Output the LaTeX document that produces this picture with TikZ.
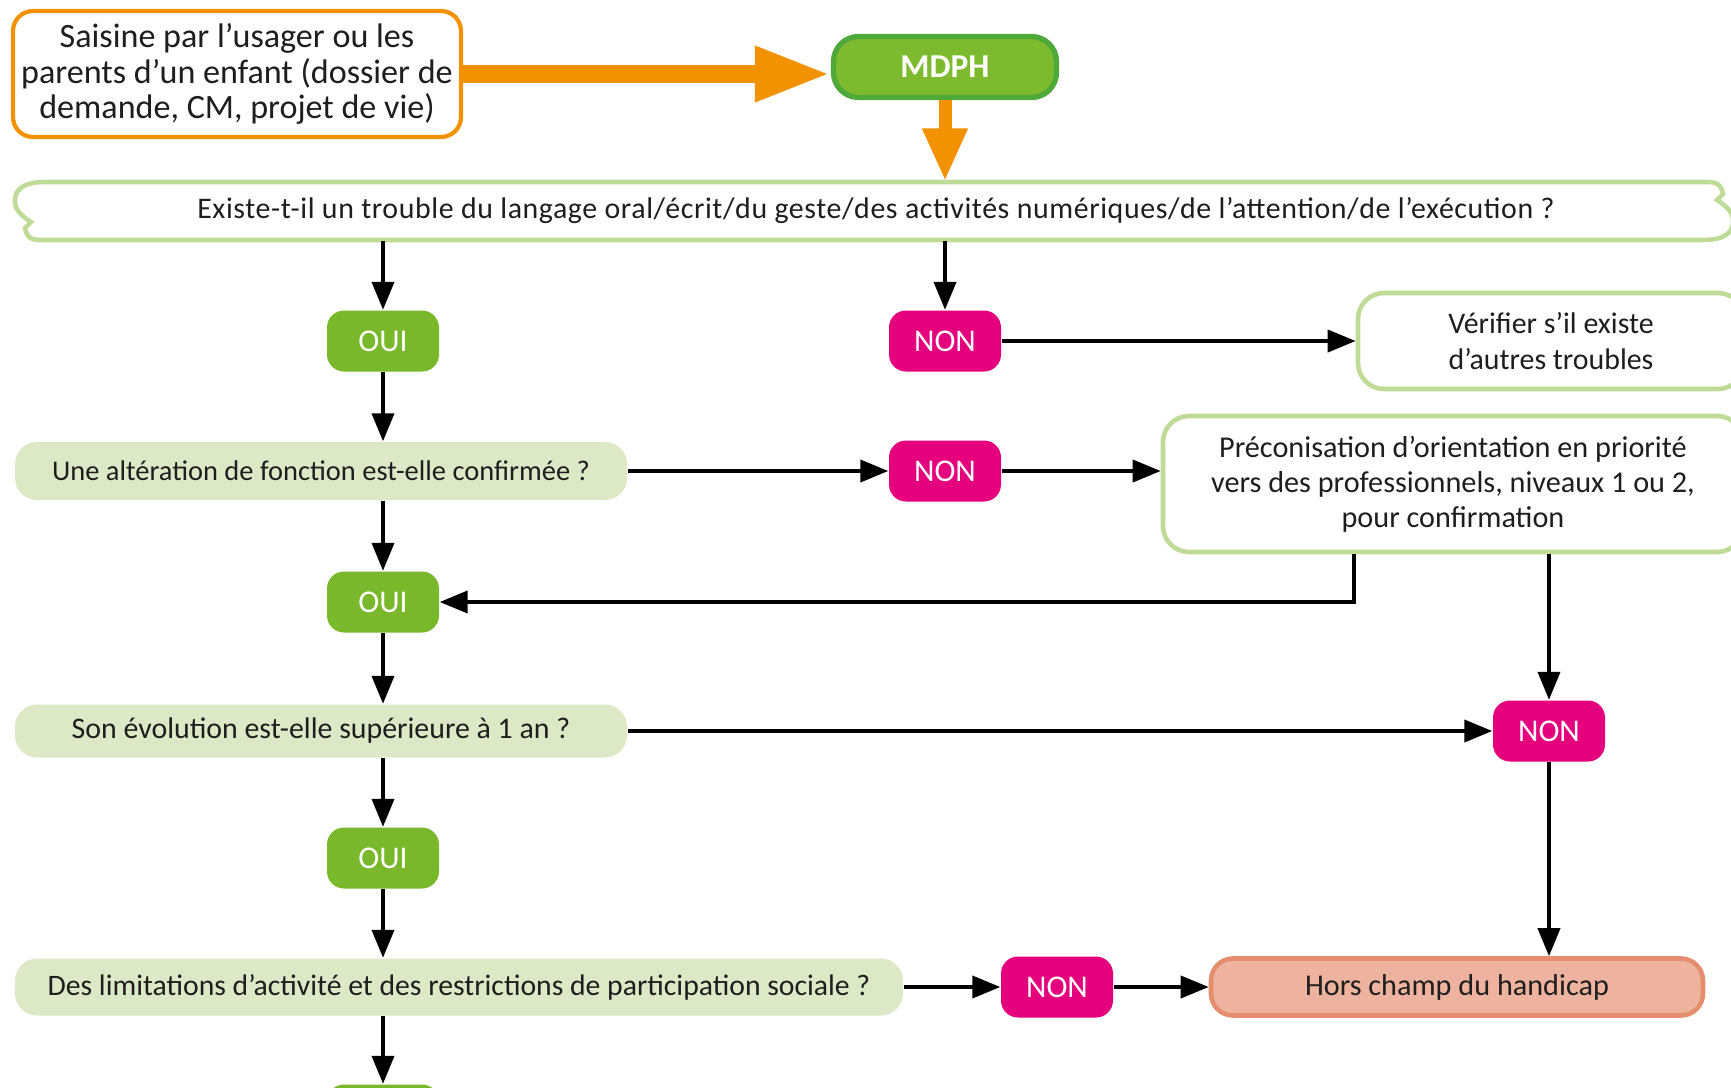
\documentclass[tikz,border=0pt]{standalone}
\usepackage{fontspec}
\setmainfont{Carlito}
\usetikzlibrary{arrows.meta}

\definecolor{orangeA}{HTML}{F39200}
\definecolor{vertoui}{HTML}{78B82A}
\definecolor{vertmdph}{HTML}{7DBA2E}
\definecolor{vertfonce}{HTML}{4FA83A}
\definecolor{rose}{HTML}{E5007E}
\definecolor{vertpale}{HTML}{DDE9C6}
\definecolor{vertbord}{HTML}{BFDB98}
\definecolor{saumon}{HTML}{EEB39E}
\definecolor{saumonbord}{HTML}{E48E6E}
\definecolor{textgris}{HTML}{1E1E1E}

\begin{document}
\begin{tikzpicture}[
    box/.style = {shape=rectangle, inner sep=0pt, align=center, text=textgris,
                  font=\fontsize{8.5}{10}\selectfont},
    oui/.style = {box, fill=vertoui, text=white, rounded corners=1.7mm,
                  minimum width=1.12cm, minimum height=0.61cm,
                  font=\fontsize{9}{10}\selectfont},
    non/.style = {oui, fill=rose},
  quest/.style = {box, fill=vertpale, rounded corners=2.2mm},
  cadre/.style = {box, draw=vertbord, line width=1.3pt, fill=white, rounded corners=2.6mm},
    arr/.style = {-{Triangle[length=2.8mm,width=2.2mm]}, line width=1.1pt, black},
 grosse/.style = {-{Triangle[length=7.6mm,width=5.1mm]}, line width=1.8mm, orangeA}
                    ]
\useasboundingbox (0,0) rectangle (17.31,-10.88);

% haut
\node[box, draw=orangeA, line width=1.2pt, fill=white, rounded corners=2mm,
      minimum width=4.48cm, minimum height=1.26cm,
      font=\fontsize{9.7}{10.2}\selectfont] (saisine) at (2.37,-0.74)
      {Saisine par l'usager ou les\\parents d'un enfant (dossier de\\demande, CM, projet de vie)};
\node[box, draw=vertfonce, line width=1.5pt, fill=vertmdph, rounded corners=2.5mm,
      minimum width=2.23cm, minimum height=0.61cm, text=white,
      font=\bfseries\fontsize{9.5}{10}\selectfont] (mdph) at (9.45,-0.67) {MDPH};

% grande question
\draw[vertbord, line width=1.3pt, fill=white]
  (0.45,-1.82) -- (17.08,-1.82) .. controls (17.20,-1.82) and (17.22,-1.88) .. (17.23,-1.94)
  -- (17.17,-2.00) .. controls (17.23,-2.04) and (17.32,-2.10) .. (17.33,-2.19)
  .. controls (17.34,-2.30) and (17.28,-2.40) .. (17.03,-2.40)
  -- (0.40,-2.40) .. controls (0.28,-2.40) and (0.26,-2.34) .. (0.25,-2.28)
  -- (0.31,-2.22) .. controls (0.25,-2.18) and (0.16,-2.12) .. (0.15,-2.03)
  .. controls (0.14,-1.92) and (0.20,-1.82) .. (0.45,-1.82) -- cycle;
\node[box, minimum width=17.18cm, minimum height=0.58cm,
      font=\fontsize{8.5}{10}\selectfont\addfontfeature{LetterSpace=2}] (q1) at (8.76,-2.11)
      {Existe-t-il un trouble du langage oral/écrit/du geste/des activités numériques/de l'attention/de l'exécution ?};

\node[oui] (oui1) at (3.83,-3.41) {OUI};
\node[non] (non1) at (9.45,-3.41) {NON};
\node[cadre, minimum width=3.86cm, minimum height=0.96cm] (verif) at (15.51,-3.41)
      {Vérifier s'il existe\\d'autres troubles};

\node[quest, minimum width=6.12cm, minimum height=0.58cm,
      font=\fontsize{8.1}{10}\selectfont] (q2) at (3.21,-4.71)
      {Une altération de fonction est-elle confirmée ?};
\node[non] (non2) at (9.45,-4.71) {NON};
\node[cadre, minimum width=5.80cm, minimum height=1.36cm,
      font=\fontsize{8.6}{10}\selectfont] (preco) at (14.53,-4.84)
      {Préconisation d'orientation en priorité\\vers des professionnels, niveaux 1 ou 2,\\pour confirmation};

\node[oui] (oui2) at (3.83,-6.02) {OUI};

\node[quest, minimum width=6.12cm, minimum height=0.53cm] (q3) at (3.21,-7.31)
      {Son évolution est-elle supérieure à 1 an ?};
\node[non] (non3) at (15.49,-7.31) {NON};

\node[oui] (oui3) at (3.83,-8.58) {OUI};

\node[quest, minimum width=8.88cm, minimum height=0.57cm,
      font=\fontsize{8.45}{10}\selectfont] (q4) at (4.59,-9.87)
      {Des limitations d'activité et des restrictions de participation sociale ?};
\node[non] (non4) at (10.57,-9.87) {NON};
\node[box, draw=saumonbord, line width=1.3pt, fill=saumon, rounded corners=2.2mm,
      minimum width=4.92cm, minimum height=0.57cm,
      font=\fontsize{8.6}{10}\selectfont] (hors) at (14.57,-9.87)
      {Hors champ du handicap};

\node[oui] (oui4) at (3.83,-11.15) {};

% fleches
\draw[grosse] (saisine.east) -- (saisine.east -| mdph.west);
\draw[grosse, line width=1.3mm, -{Triangle[length=5.3mm,width=4.2mm]}] (mdph.south) -- (mdph.south |- q1.north);

\draw[arr] (q1.south -| oui1) -- (oui1.north);
\draw[arr] (q1.south -| non1) -- (non1.north);
\draw[arr] (non1.east) -- (verif.west);
\draw[arr] (oui1.south) -- (oui1 |- q2.north);
\draw[arr] (q2.east) -- (non2.west);
\draw[arr] (non2.east) -- (non2 -| preco.west);
\draw[arr] (oui2 |- q2.south) -- (oui2.north);
\draw[arr] ([xshift=1.93cm]preco.south west) |- (oui2.east);
\draw[arr] (preco.south -| non3) -- (non3.north);
\draw[arr] (oui2.south) -- (oui2 |- q3.north);
\draw[arr] (q3.east) -- (non3.west);
\draw[arr] (oui3 |- q3.south) -- (oui3.north);
\draw[arr] (non3.south) -- (non3 |- hors.north);
\draw[arr] (oui3.south) -- (oui3 |- q4.north);
\draw[arr] (q4.east) -- (non4.west);
\draw[arr] (non4.east) -- (hors.west);
\draw[arr] (oui4 |- q4.south) -- (oui4.north);

\end{tikzpicture}
\end{document}
